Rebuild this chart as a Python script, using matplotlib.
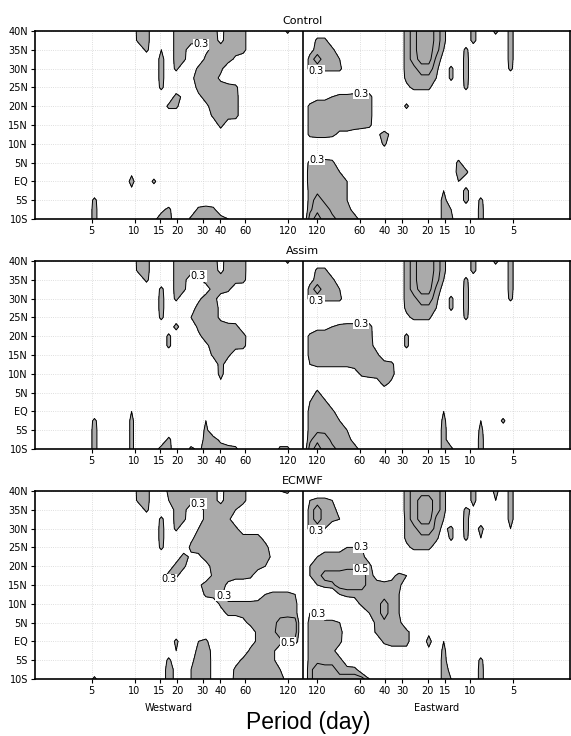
import numpy as np
import matplotlib.pyplot as plt

# axis ticks
periods = [5, 10, 15, 20, 30, 40, 60, 120]
lat_ticks = [40, 35, 30, 25, 20, 15, 10, 5, 0, -5, -10]
lat_labels = ['40N', '35N', '30N', '25N', '20N', '15N', '10N', '5N', 'EQ', '5S', '10S']
titles = ['Control', 'Assim', 'ECMWF']
levels = [0.3, 0.5, 0.7]

# coherence codes used in the grids below
codes = {'.': 0.0, '0': 0.0, '1': 0.1, '2': 0.2, '3': 0.3, '4': 0.4, '5': 0.45, '6': 0.48,
         'a': 0.55, 'b': 0.6, 'c': 0.65, 'd': 0.75, 'e': 0.8, 'f': 0.9}

# coherence, one entry per latitude row 40N -> 10S (2.5 deg),
# each row is a list of (column, codes) runs; west column 0 = 2-day edge, east column 0 = zero line
ctrl_west = [
    [(14, "66"), (19, "5666642566"), (34, "4")],
    [(14, "56"), (19, "5665552666")],
    [(15, "4"), (17, "3"), (19, "55..256666")],
    [(17, "5"), (19, "54"), (23, "46662")],
    [(17, "5"), (19, "4"), (22, "4664")],
    [(17, "5"), (21, "26662")],
    [(17, "4"), (22, "566664")],
    [(19, "52.256665")],
    [(18, "44"), (23, "26665")],
    [(24, "4665")],
    [(25, "5")],
    [], [], [], [],
    [(13, "2")],
    [(13, "5"), (16, "4")],
    [(13, "2")],
    [(8, "4")],
    [(8, "5"), (17, "24"), (22, "464")],
    [(8, "5"), (16, "266"), (21, "466663")],
]
ctrl_east = [
    [(13, "14bffb4"), (23, "5"), (26, "5"), (28, "5")],
    [(2, "44"), (13, "14bffb4"), (23, "5"), (28, "5")],
    [(1, "2444"), (13, "14bfeb3"), (22, "4"), (28, "5")],
    [(1, "4b443"), (13, "14bee52"), (22, "5"), (28, "5")],
    [(1, "44444"), (13, "145bb4.4.5"), (28, "4")],
    [(14, "45553.4.5")],
    [(14, "2444"), (22, "4")],
    [(2, "22344555")],
    [(1, "466666665"), (14, "4")],
    [(1, "466666665")],
    [(1, "466666664")],
    [(1, "4554221"), (10, "252")],
    [(11, "4")],
    [],
    [(1, "4554"), (21, "4")],
    [(1, "55553"), (21, "54")],
    [(1, "555553"), (21, "3")],
    [(1, "454443"), (19, "3"), (22, "5")],
    [(1, "4b5443"), (19, "5"), (22, "5"), (24, "4")],
    [(1, "5cb5442"), (19, "53"), (24, "5")],
    [(1, "beba5442"), (19, "54"), (24, "5")],
]
assim_west = [
    [(14, "66"), (19, "5666642566"), (34, "4")],
    [(14, "56"), (19, "5665552666")],
    [(15, "4"), (19, "55.2566665")],
    [(17, "4"), (19, "54"), (23, "1564")],
    [(17, "5"), (19, "4"), (22, "2651")],
    [(17, "5"), (21, "15662")],
    [(17, "4"), (21, "36662")],
    [(19, "5"), (22, "466665")],
    [(18, "4"), (22, "2666666")],
    [(18, "4"), (23, "266665")],
    [(24, "464")],
    [(25, "6")],
    [(25, "5")],
    [(25, "2")],
    [], [],
    [(13, "3")],
    [(8, "4"), (13, "4"), (23, "3")],
    [(8, "5"), (13, "4"), (23, "4")],
    [(8, "5"), (13, "4"), (18, "4"), (23, "652")],
    [(8, "5"), (13, "4"), (16, "155"), (21, "4266664"), (33, "44")],
]
assim_east = [
    [(13, "14bffb4"), (23, "5"), (26, "5"), (28, "5")],
    [(2, "44"), (13, "14bffb4"), (23, "5"), (28, "5")],
    [(1, "2444"), (13, "14bfeb3"), (22, "4"), (28, "5")],
    [(1, "4b443"), (13, "14bee52"), (22, "5"), (28, "5")],
    [(1, "44444"), (13, "145bb4.4.5"), (28, "4")],
    [(14, "45553.4.5")],
    [(14, "2444"), (22, "4")],
    [(2, "22345555")],
    [(1, "466666666"), (14, "4")],
    [(1, "4666666661"), (14, "4")],
    [(1, "4666666664")],
    [(1, "344444566664")],
    [(7, "146665")],
    [(10, "152")],
    [(2, "4")],
    [(1, "354")],
    [(1, "4554"), (19, "3")],
    [(1, "45443"), (19, "4"), (24, "3"), (27, "4")],
    [(1, "455443"), (19, "5"), (24, "4")],
    [(1, "5cb5442"), (19, "5"), (24, "5")],
    [(1, "beba5442"), (19, "54"), (24, "5")],
]
ecmwf_west = [
    [(14, "66"), (18, "46666642566"), (33, "34")],
    [(14, "56"), (18, "36665542666")],
    [(15, "4"), (19, "55..56663")],
    [(17, "4"), (19, "54"), (23, "5664")],
    [(17, "5"), (19, "4"), (22, "366664")],
    [(17, "5"), (21, "26666666661")],
    [(17, "4"), (21, "46666666666")],
    [(20, "6226666666662")],
    [(19, "64"), (23, "166666663")],
    [(18, "64"), (24, "466664")],
    [(22, "26662")],
    [(23, "464"), (30, "134443")],
    [(25, "44444444444")],
    [(25, "14444444444")],
    [(28, "24444bcb")],
    [(29, "1445bcb")],
    [(19, "4"), (22, "34"), (29, "14445b5")],
    [(19, "3"), (22, "552"), (29, "4444")],
    [(18, "4"), (21, "2662"), (27, "144444")],
    [(17, "152"), (21, "3662"), (27, "4444443")],
    [(8, "4"), (17, "152"), (21, "3662"), (26, "144444442")],
]
ecmwf_east = [
    [(13, "14bbbb4"), (23, "5"), (26, "5"), (28, "5")],
    [(1, "3443"), (13, "14beeb4"), (23, "5"), (26, "3"), (28, "5")],
    [(1, "4b442"), (13, "14beeb4"), (22, "42"), (28, "5")],
    [(1, "4b443"), (14, "4bee53"), (22, "5"), (28, "5")],
    [(1, "443"), (14, "45bb524.5.5"), (28, "3")],
    [(14, "44554.4.4.3")],
    [(3, "2223332"), (14, "24441")],
    [(2, "34444441")],
    [(1, "344445554")],
    [(1, "34bbbbbb421243")],
    [(1, "1345bbbb44444")],
    [(5, "344444443")],
    [(7, "1444b43")],
    [(1, "33"), (9, "34b43")],
    [(1, "44443"), (9, "14544")],
    [(1, "444441"), (10, "444441"), (17, "2")],
    [(1, "44444"), (11, "44441"), (17, "5"), (19, "3")],
    [(1, "44441"), (12, "222"), (17, "2"), (19, "4")],
    [(1, "454441"), (19, "5"), (24, "4")],
    [(1, "5bbb4441"), (19, "52"), (24, "5")],
    [(1, "5bbbbbbb3"), (16, "3"), (19, "53"), (24, "5")],
]

# contour labels: (x, lat, level), x in the axis coordinate below
ctrl_labels = [(-0.70, 37.9, 0.3), (0.098, 27.8, 0.3), (0.41, 25.1, 0.3), (0.098, 7.0, 0.3)]
assim_labels = [(-0.70, 37.9, 0.3), (0.098, 27.8, 0.3), (0.41, 24.3, 0.3)]
ecmwf_labels = [(-0.70, 37.9, 0.3), (-0.95, 15.0, 0.3), (-0.575, 11.5, 0.3), (-0.098, -1.0, 0.5),
                (0.098, 27.8, 0.3), (0.41, 24.7, 0.3), (0.41, 19.0, 0.5), (0.098, 6.8, 0.3)]

panels = [(ctrl_west, ctrl_east, ctrl_labels),
          (assim_west, assim_east, assim_labels),
          (ecmwf_west, ecmwf_east, ecmwf_labels)]


def pos(p):
    # log-period axis, 120 days sits just off the zero line
    return 0.1 + np.log10(120.0 / p)


def grid(rows):
    z = np.zeros((21, 37))
    for r, runs in enumerate(rows):
        for c, s in runs:
            for k, ch in enumerate(s):
                z[r, c + k] = codes[ch]
    return z


edge = pos(2.0)
lat = np.linspace(40, -10, 21)
xw = np.linspace(-edge, 0, 37)
xe = np.linspace(0, edge, 37)

xticks = [-pos(p) for p in periods] + [pos(p) for p in periods[::-1]]
xticklabels = [str(p) for p in periods] + [str(p) for p in periods[::-1]]

fig = plt.figure(figsize=(5.71, 7.36), dpi=100)
bottoms = [1 - 219 / 736, 1 - 449 / 736, 1 - 679 / 736]

for n, (west, east, labs) in enumerate(panels):
    ax = fig.add_axes([35 / 571, bottoms[n], 535 / 571, 188 / 736])
    sets = {}
    for side, x, rows in (('w', xw, west), ('e', xe, east)):
        z = grid(rows)
        ax.contourf(x, lat, z, levels=[0.3, 1.0], colors=['#aaaaaa'])
        # one contour set per level so each can be labelled on its own
        for lev in levels:
            if z.max() > lev:
                sets[(side, lev)] = ax.contour(x, lat, z, levels=[lev], colors='k', linewidths=0.7)

    for (u, la, lev) in labs:
        cs = sets[('w' if u < 0 else 'e', lev)]
        texts = cs.clabel(manual=[(u, la)], inline=False, fontsize=7, fmt='%.1f')
        for t in texts:
            t.set_rotation(0)
            t.set_bbox(dict(facecolor='white', edgecolor='none', pad=0.4))

    ax.axvline(0, color='k', lw=1.2, zorder=5)
    ax.set_xlim(-edge, edge)
    ax.set_ylim(-10, 40)
    ax.set_xticks(xticks)
    ax.set_xticklabels(xticklabels)
    ax.set_yticks(lat_ticks)
    ax.set_yticklabels(lat_labels)
    ax.tick_params(direction='out', length=3, width=0.8, labelsize=7, pad=2)
    ax.grid(True, color='#d4d4d4', linestyle=':', linewidth=0.6)
    ax.set_axisbelow(True)
    for sp in ax.spines.values():
        sp.set_linewidth(1.2)
    ax.set_title(titles[n], fontsize=8, pad=5)

    if n == 2:
        ax.text(0.25, -29 / 188, 'Westward', transform=ax.transAxes, ha='center', va='center', fontsize=7)
        ax.text(0.75, -29 / 188, 'Eastward', transform=ax.transAxes, ha='center', va='center', fontsize=7)

fig.text(0.54, 1 - 729 / 736, 'Period (day)', ha='center', va='baseline', fontsize=16.5,
         family='Liberation Sans')

fig.savefig('out.png', dpi=100)
